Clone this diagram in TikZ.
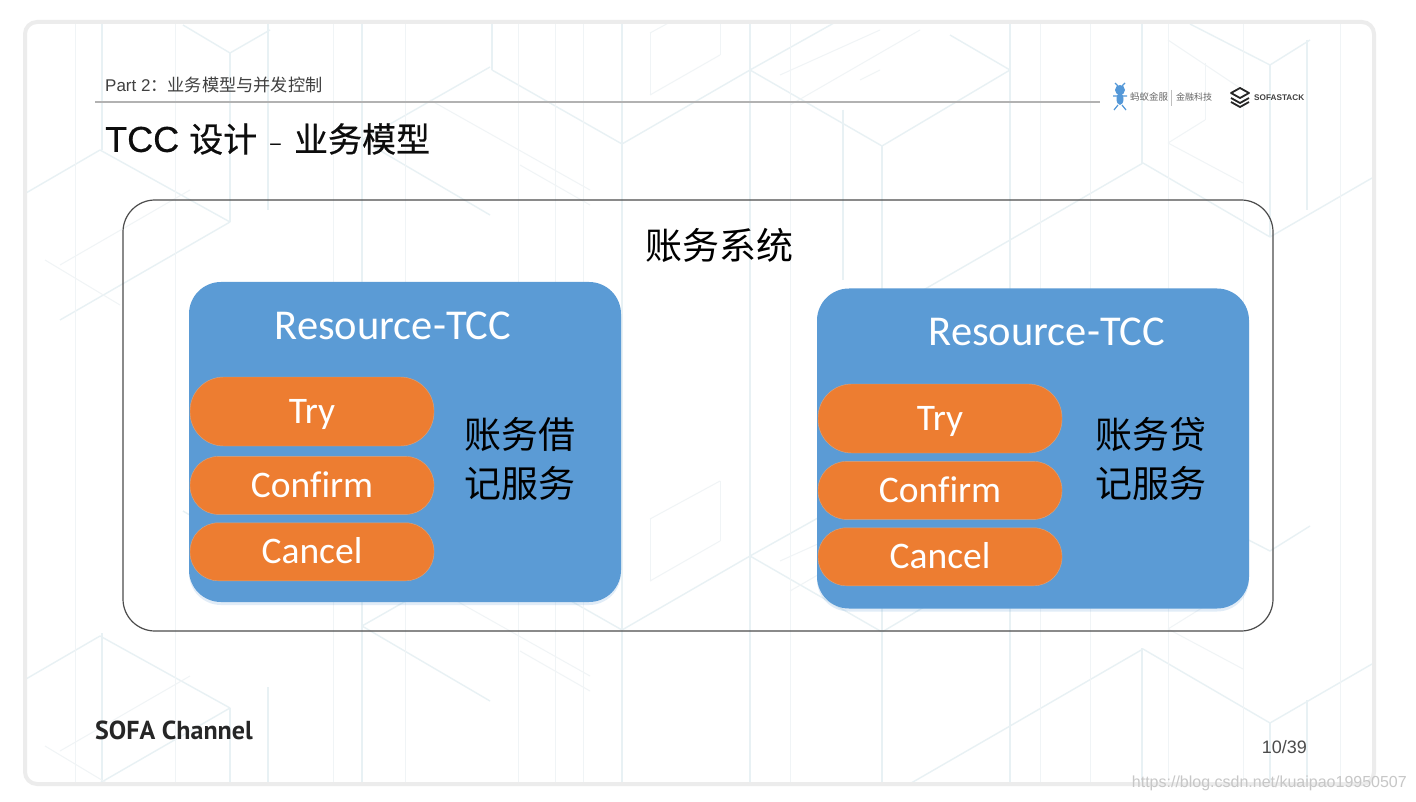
\documentclass[tikz,border=0pt]{standalone}
\usepackage{fontspec}
\setmainfont{Liberation Sans}
\newfontfamily\cjk{Noto Sans CJK SC}
\newfontfamily\cjkmed[FakeBold=0.5]{Noto Sans CJK SC}
\newfontfamily\sansmed[FakeBold=0.5]{Liberation Sans}
\newfontfamily\calfont[Ligatures=NoCommon]{Carlito}
\newfontfamily\channelfont{PT Sans}
\usepackage{tikz}
\usetikzlibrary{positioning, shadows}
\definecolor{boxblue}{HTML}{5B9BD5}
\definecolor{pillorange}{HTML}{ED7D31}
\definecolor{pilledge}{HTML}{D8A581}
\definecolor{slideedge}{HTML}{ECECEC}
\definecolor{patternline}{HTML}{E8F1F4}
\definecolor{patternfaint}{HTML}{F0F4F6}

\begin{document}
\begin{tikzpicture}[x=1pt, y=-1pt, node distance=8pt,
    slide/.style={rectangle, draw=slideedge, line width=4pt, rounded corners=12pt, minimum width=1349pt, minimum height=762pt},
    frame/.style={rectangle, draw=black!70, line width=1.2pt, rounded corners=32pt, minimum width=1150pt, minimum height=431pt},
    service/.style={rectangle, fill=boxblue, rounded corners=32pt, minimum width=432pt, minimum height=320pt, drop shadow={opacity=0.18, fill=boxblue, shadow xshift=0pt, shadow yshift=-3pt}},
    pill/.style={rectangle, draw=pilledge, fill=pillorange, minimum height=#1, rounded corners=0.49*#1, minimum width=244pt, text=white, inner sep=0pt, text height=24pt, text depth=0pt, font=\calfont\fontsize{37.5}{37.5}\selectfont},
    tccname/.style={text=white, inner sep=0pt, font=\calfont\fontsize{42.5}{42.5}\selectfont},
    svcname/.style={align=center, inner sep=0pt, font=\cjk\fontsize{37}{49}\selectfont},
    line/.style={draw=patternline, line width=1.4pt},
    thinline/.style={draw=patternfaint, line width=1pt}]

    \useasboundingbox (0,0) rectangle (1416,802);
    \fill[white] (0,0) rectangle (1416,802);

    \begin{scope}
        \clip (27,24) rectangle (1372,782);
        \foreach \xa/\ya/\yb in {102/24/150, 102/633/782, 230/53/222, 230/708/782, 268/24/210, 268/687/782, 362/24/140, 362/140/782,
            492/24/70, 622/24/782, 750/24/782, 882/146/782, 843/110/280, 1010/24/782, 1142/24/163, 1142/648/782, 1270/65/237, 1270/722/782, 1307/40/210, 1307/700/782}
            \path [line] (\xa,\ya) -- (\xa,\yb);
        \foreach \yy in {0,486}
            \foreach \xa/\ya/\xb/\yb in {
                183/25/230/53, 230/53/270/30, 100/150/26/193, 100/150/230/222, 230/222/60/320,
                492/70/622/144, 622/144/750/70, 750/70/850/14, 362/140/490/67, 362/140/490/215,
                750/70/882/146, 882/146/1010/70, 1010/70/950/35, 1143/163/1270/237, 1143/163/1010/240, 1010/240/880/315,
                1190/24/1270/65, 1270/65/1310/40, 1270/237/1372/178}
                \path [line] (\xa,\ya+\yy) -- (\xb,\yb+\yy);
        \foreach \xa in {75,175,333,405,518,555,583,790,1040,1090,1168,1243,1340}
            \path [thinline] (\xa,24) -- (\xa,782);
        \foreach \yy in {0,486}
            \foreach \xa/\ya/\xb/\yb in {
                650/95/720/55, 650/33/720/-5, 650/95/650/33, 720/55/720/-5, 
                1168/143/1243/183, 1168/40/1243/90, 1168/143/1205/120, 1205/63/1205/120,
                60/265/190/190, 45/260/120/305, 430/100/590/190, 520/165/590/205,
                780/75/880/30, 790/105/920/30, 860/80/880/70}
                \path [thinline] (\xa,\ya+\yy) -- (\xb,\yb+\yy);
    \end{scope}

    \node [slide] (page) at (699.5,403) {};
    \draw [black!30, line width=1.5pt] (95,102) coordinate (rulea) -- (1100,102) coordinate (ruleb);

    \node [anchor=west, inner sep=0pt, text=black!75, font=\fontsize{17}{17}\selectfont] (part) at (105,85) {Part 2{\cjk\fontsize{17.2}{17.2}\selectfont：业务模型与并发控制}};
    \node [anchor=west, inner sep=0pt, text=black!95, font=\sansmed\fontsize{36}{36}\selectfont] (title) at (105,139) {TCC{\hspace{10pt}\cjkmed\fontsize{34}{34}\selectfont 设计\hspace{12pt}{\cjk\fontsize{24}{24}\selectfont –}\hspace{12pt}业务模型}};

    \fill [cyan!60!blue!70] (1120,90) circle (5pt) (1120,99) ellipse (3.5pt and 6pt);
    \draw [cyan!60!blue!70, line width=1.2pt] (1113,96) -- (1127,96) (1118,105) -- (1114,110) (1122,105) -- (1126,110) (1118,86) -- (1115,83) (1122,86) -- (1125,83);
    \node [anchor=west, inner sep=0pt, text=black!60, font=\cjk\fontsize{9.5}{9.5}\selectfont] (antfin) at (1130,97) {蚂蚁金服};
    \node [anchor=west, inner sep=0pt, text=black!60, font=\cjk\fontsize{9}{9}\selectfont] (fintech) at (1176,97) {金融科技};
    \draw [black!25] (1171,90) -- (1171,106);
    \draw [black!85, line width=1.8pt, line join=round] (1240,88) -- (1249,93) -- (1240,98) -- (1231,93) -- cycle (1231,98) -- (1240,103) -- (1249,98) (1231,102) -- (1240,107) -- (1249,102);
    \node [anchor=west, inner sep=0pt, text=black!75, font=\bfseries\fontsize{8.2}{8.2}\selectfont] (sofastack) at (1254,98) {SOFASTACK};

    \node [frame] (system) at (698,415.5) {};
    \node [inner sep=0pt, font=\cjk\fontsize{37}{37}\selectfont] (systemname) at (719,245) {账务系统};

    \node [service] (debit) at (405,442) {};
    \node [tccname] (debittcc) at (393,326) {Resource-TCC};
    \node [pill=69pt] (debittry) at (312,411.5) {Try};
    \node [pill=58pt, below=10pt of debittry] (debitconfirm) {Confirm};
    \node [pill=58pt, below=8pt of debitconfirm] (debitcancel) {Cancel};
    \node [svcname] (debitname) at (520,459) {账务借\\记服务};

    \node [service] (credit) at (1033,448.5) {};
    \node [tccname] (credittcc) at (1047,332) {Resource-TCC};
    \node [pill=69pt] (credittry) at (940,418.5) {Try};
    \node [pill=58pt, below=8pt of credittry] (creditconfirm) {Confirm};
    \node [pill=58pt, below=8pt of creditconfirm] (creditcancel) {Cancel};
    \node [svcname] (creditname) at (1151,459) {账务贷\\记服务};

    \node [anchor=west, inner sep=0pt, text=black!85, font=\channelfont\bfseries\fontsize{26}{26}\selectfont] (channel) at (95,730) {SOFA Channel};
    \node [anchor=east, inner sep=0pt, text=black!70, font=\fontsize{18}{18}\selectfont] (pageno) at (1307,747) {10/39};
    \node [anchor=east, inner sep=0pt, text=black!22, font=\fontsize{16}{16}\selectfont] (mark) at (1407,783) {https://blog.csdn.net/kuaipao19950507};
\end{tikzpicture}
\end{document}
